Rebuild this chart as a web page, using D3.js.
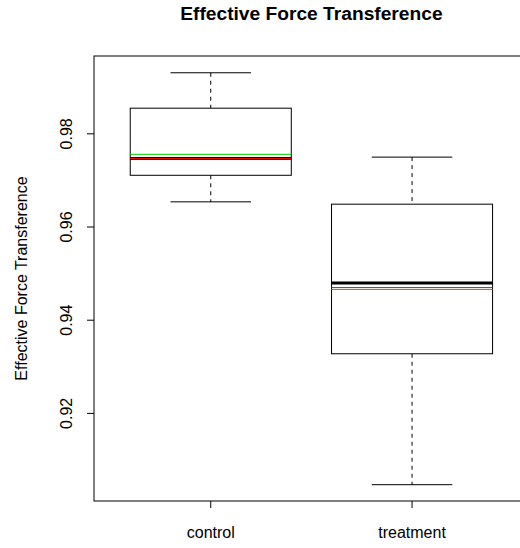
<!DOCTYPE html>
<html>
<head>
<meta charset="utf-8">
<script src="https://cdn.jsdelivr.net/npm/d3@7"></script>
<style>
  body { margin: 0; background: #fff; }
  text { font-family: "Liberation Sans", Arial, sans-serif; }
</style>
</head>
<body>
<svg id="chart" width="520" height="548"></svg>
<script>
// data
const groups = ["control", "treatment"];
const whiskerLow = [0.9654, 0.9047];
const q1 = [0.9711, 0.9328];
const median = [0.9747, 0.9480];
const q3 = [0.9855, 0.9649];
const whiskerHigh = [0.9931, 0.9750];
const redLine = [0.9747, 0.9470];
const greenLine = [0.9756, 0.9466];
const yTicks = [0.92, 0.94, 0.96, 0.98];

const svg = d3.select("#chart");
const plotLeft = 94, plotTop = 56, plotBottom = 501;

const x = d3.scaleLinear().domain([0.42, 2.58]).range([plotLeft, plotLeft + 2.16 * 201.3]);
const y = d3.scaleLinear().domain([0.9012, 0.9967]).range([plotBottom, plotTop]);

const boxW = x(1.4) - x(1);
const capW = x(1.2) - x(1);

// title
svg.append("text")
    .attr("x", (x(0.42) + x(2.58)) / 2)
    .attr("y", 20)
    .attr("text-anchor", "middle")
    .attr("font-weight", "bold")
    .attr("font-size", 19.2)
    .text("Effective Force Transference");

// boxes
groups.forEach((gname, i) => {
    const cx = x(i + 1);
    const g = svg.append("g");
    // whiskers (dashed)
    g.append("line")
        .attr("x1", cx).attr("x2", cx)
        .attr("y1", y(whiskerHigh[i])).attr("y2", y(q3[i]))
        .attr("stroke", "black").attr("stroke-dasharray", "4,4");
    g.append("line")
        .attr("x1", cx).attr("x2", cx)
        .attr("y1", y(q1[i])).attr("y2", y(whiskerLow[i]))
        .attr("stroke", "black").attr("stroke-dasharray", "4,4");
    // staples
    [whiskerHigh[i], whiskerLow[i]].forEach(v => {
        g.append("line")
            .attr("x1", cx - capW).attr("x2", cx + capW)
            .attr("y1", y(v)).attr("y2", y(v))
            .attr("stroke", "black");
    });
    // box
    g.append("rect")
        .attr("x", cx - boxW).attr("width", 2 * boxW)
        .attr("y", y(q3[i])).attr("height", y(q1[i]) - y(q3[i]))
        .attr("fill", "none").attr("stroke", "black");
    // median
    g.append("line")
        .attr("x1", cx - boxW).attr("x2", cx + boxW)
        .attr("y1", y(median[i])).attr("y2", y(median[i]))
        .attr("stroke", "black").attr("stroke-width", 3);
    g.append("line")
        .attr("x1", cx - boxW).attr("x2", cx + boxW)
        .attr("y1", y(greenLine[i])).attr("y2", y(greenLine[i]))
        .attr("stroke", "#00cc00").attr("stroke-width", 1);
    g.append("line")
        .attr("x1", cx - boxW).attr("x2", cx + boxW)
        .attr("y1", y(redLine[i])).attr("y2", y(redLine[i]))
        .attr("stroke", "#ff0000").attr("stroke-width", 1);
});

// frame
svg.append("rect")
    .attr("x", plotLeft).attr("y", plotTop)
    .attr("width", x(2.58) - plotLeft).attr("height", plotBottom - plotTop)
    .attr("fill", "none").attr("stroke", "black");

// y axis
const yAxis = svg.append("g");
yTicks.forEach(t => {
    yAxis.append("line")
        .attr("x1", plotLeft - 7).attr("x2", plotLeft)
        .attr("y1", y(t)).attr("y2", y(t))
        .attr("stroke", "black");
    yAxis.append("text")
        .attr("transform", `translate(72,${y(t)}) rotate(-90)`)
        .attr("text-anchor", "middle")
        .attr("font-size", 16)
        .text(d3.format(".2f")(t));
});

// x axis
groups.forEach((gname, i) => {
    svg.append("line")
        .attr("x1", x(i + 1)).attr("x2", x(i + 1))
        .attr("y1", plotBottom).attr("y2", plotBottom + 7)
        .attr("stroke", "black");
    svg.append("text")
        .attr("x", x(i + 1)).attr("y", 538)
        .attr("text-anchor", "middle")
        .attr("font-size", 16)
        .text(gname);
});

// y label
svg.append("text")
    .attr("transform", `translate(27,${(plotTop + plotBottom) / 2}) rotate(-90)`)
    .attr("text-anchor", "middle")
    .attr("font-size", 16)
    .text("Effective Force Transference");
</script>
</body>
</html>
